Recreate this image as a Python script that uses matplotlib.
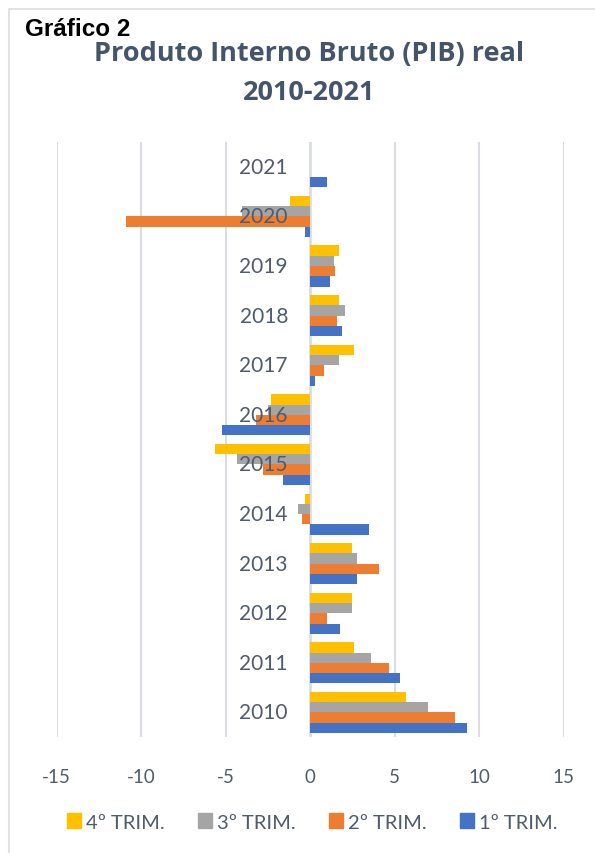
import matplotlib.pyplot as plt
import matplotlib.transforms as mtransforms
from matplotlib.patches import Rectangle, Patch
import numpy as np

years = ['2010', '2011', '2012', '2013', '2014', '2015',
         '2016', '2017', '2018', '2019', '2020', '2021']
trim1 = [9.3, 5.3, 1.8, 2.8, 3.5, -1.6, -5.2, 0.3, 1.9, 1.2, -0.3, 1.0]
trim2 = [8.6, 4.7, 1.0, 4.1, -0.5, -2.8, -3.2, 0.8, 1.6, 1.5, -10.9, np.nan]
trim3 = [7.0, 3.6, 2.5, 2.8, -0.7, -4.3, -2.5, 1.7, 2.1, 1.4, -4.0, np.nan]
trim4 = [5.7, 2.6, 2.5, 2.5, -0.3, -5.6, -2.3, 2.6, 1.7, 1.7, -1.2, np.nan]
series = ['1º TRIM.', '2º TRIM.', '3º TRIM.', '4º TRIM.']
colors = ['#4472C4', '#ED7D31', '#A5A5A5', '#FFC000']
xticks = [-15, -10, -5, 0, 5, 10, 15]

txt_color = '#44546A'
lbl_color = '#505B6D'
grid_color = '#D9DDE3'

W, H = 595, 854
fig = plt.figure(figsize=(W / 100, H / 100), dpi=100)
plt.rcParams['font.family'] = ['Lato', 'DejaVu Sans']

# chart border
fig.add_artist(Rectangle((9 / W, -0.1), 1.2, 1 - 10 / H + 0.1, transform=fig.transFigure,
                         fill=False, edgecolor='#D9DDE3', linewidth=1.2))

fig.text(25 / W, 1 - 29 / H, 'Gráfico 2', fontsize=17.5, fontweight='bold',
         family=['Liberation Sans', 'DejaVu Sans'], color='black', va='center')
fig.text(309 / W, 1 - 54 / H, 'Produto Interno Bruto (PIB) real', fontsize=19.5,
         fontweight='bold', color=txt_color, ha='center', va='center',
         family=['Open Sans', 'DejaVu Sans'])
fig.text(309 / W, 1 - 93 / H, '2010-2021', fontsize=19.5,
         fontweight='bold', color=txt_color, ha='center', va='center',
         family=['Open Sans', 'DejaVu Sans'])

ax = fig.add_axes([56.5 / W, 1 - 738.3 / H, 507 / W, (738.3 - 143) / H])

y = np.arange(len(years))
h = 0.207
data = [trim1, trim2, trim3, trim4]
for i, (vals, c) in enumerate(zip(data, colors)):
    ax.barh(y + (i - 1.5) * h, vals, height=h, color=c, zorder=3)

for xv in xticks:
    ax.axvline(xv, color=grid_color, linewidth=1.5 if xv else 2, zorder=1)

ax.set_xlim(-15, 15)
ax.set_ylim(-0.5, len(years) - 0.5)
ax.set_xticks(xticks)
ax.set_xticklabels([str(v) for v in xticks], fontsize=13.5, color=lbl_color)
ax.tick_params(axis='x', length=0, pad=22)
ax.set_yticks([])
for s in ax.spines.values():
    s.set_visible(False)

# year labels next to the zero axis
off = mtransforms.offset_copy(ax.transData, fig=fig, x=-22, y=0, units='dots')
for yi, lab in zip(y, years):
    ax.text(0, yi, lab, transform=off, ha='right', va='center',
            fontsize=15, color=lbl_color, zorder=4)

handles = [Patch(color=c) for c in colors][::-1]
fig.legend(handles, series[::-1], loc='center', bbox_to_anchor=(312 / W, 1 - 823 / H),
           ncol=4, frameon=False, fontsize=14.5, labelcolor=lbl_color,
           handlelength=0.7, handleheight=0.7, handletextpad=0.25, columnspacing=1.65)

fig.savefig('out.png', dpi=100)
